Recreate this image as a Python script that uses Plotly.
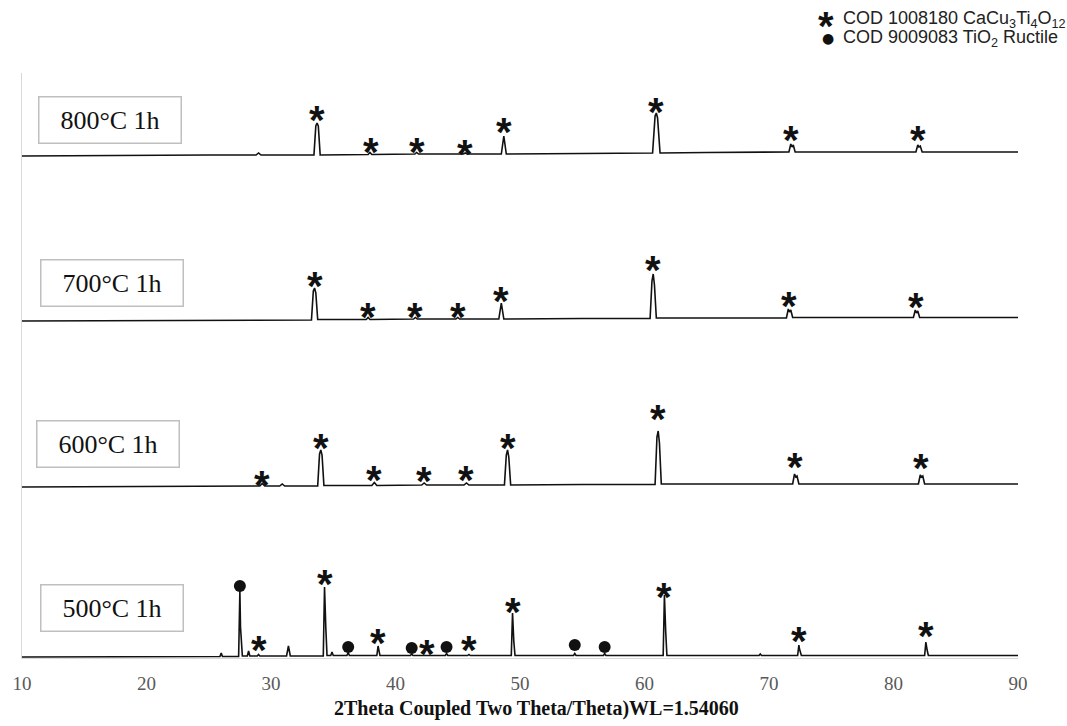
import plotly.graph_objects as go

# ---------------- data ----------------
# Each pattern: (2theta, intensity above its own baseline offset)
t800 = [(10, 0), (15, 0.5), (20, 0.5), (25, 1), (28.8, 1), (29.0, 3), (29.2, 1),
        (33.45, 1), (33.6, 30), (33.7, 33), (33.8, 30), (33.95, 1),
        (37.8, 1.5), (37.95, 3.5), (38.1, 1.5), (41.55, 2), (41.7, 3.5), (41.85, 2),
        (45.45, 2), (45.6, 3), (45.75, 2), (48.5, 2), (48.7, 20), (48.9, 2),
        (55, 2.5), (60.65, 3), (60.85, 40), (60.95, 43), (61.05, 38), (61.25, 3),
        (65, 3.5), (71.6, 4), (71.75, 12), (71.85, 9), (71.95, 11), (72.1, 4),
        (75, 4), (81.8, 4), (81.95, 11), (82.05, 9), (82.15, 10), (82.3, 4),
        (85, 4), (90, 4)]
t700 = [(10, 0), (15, 0.3), (20, 0.5), (25, 0.8), (30, 1),
        (33.25, 1), (33.4, 30), (33.5, 33), (33.6, 28), (33.75, 1.5),
        (37.65, 1.5), (37.8, 3.5), (37.95, 1.5), (41.45, 2), (41.6, 3.5), (41.75, 2),
        (44.85, 2), (45.0, 3.5), (45.15, 2), (48.3, 2), (48.5, 18), (48.7, 2),
        (55, 2.5), (60.45, 2.5), (60.6, 40), (60.7, 47), (60.8, 36), (60.95, 3),
        (65, 3), (71.4, 3), (71.55, 12), (71.65, 9), (71.75, 11), (71.9, 3.5),
        (75, 3.5), (81.6, 3.5), (81.75, 11), (81.85, 8), (81.95, 10), (82.1, 3.5),
        (85, 3.5), (90, 3.5)]
t600 = [(10, 0), (15, 0.3), (20, 0.5), (25, 0.7), (29.1, 1), (29.3, 3.5), (29.5, 1),
        (30.7, 1), (30.9, 3), (31.1, 1), (33.75, 1), (33.9, 33), (34.0, 37), (34.1, 32), (34.25, 1.5),
        (38.1, 1.5), (38.3, 4.5), (38.5, 1.5), (42.1, 2), (42.3, 4), (42.5, 2),
        (45.5, 2), (45.7, 4), (45.9, 2), (48.75, 2), (48.9, 32), (49.0, 37), (49.1, 30), (49.25, 2),
        (55, 2.5), (60.85, 2.5), (61.0, 50), (61.1, 56), (61.2, 44), (61.35, 3),
        (65, 3), (71.9, 3), (72.05, 13), (72.15, 10), (72.25, 11), (72.4, 3),
        (75, 3), (82.0, 3), (82.15, 12), (82.25, 10), (82.35, 11), (82.5, 3),
        (85, 3), (90, 3)]
t500 = [(10, 0), (15, 0.3), (20, 0.5), (25, 0.5), (25.9, 0.5), (26.0, 4), (26.1, 0.5),
        (27.4, 0.5), (27.5, 66), (27.55, 30), (27.6, 20), (27.7, 1),
        (28.1, 1), (28.2, 6), (28.3, 1), (28.9, 1), (29.0, 2.5), (29.1, 1),
        (31.25, 1), (31.4, 11), (31.55, 1), (34.2, 1), (34.3, 70), (34.35, 45), (34.4, 30), (34.5, 1.5),
        (34.8, 1.5), (34.9, 5), (35.0, 1.5), (36.1, 1.5), (36.2, 4.5), (36.3, 1.5),
        (38.5, 1.5), (38.6, 11), (38.65, 6), (38.75, 1.5), (41.2, 1.5), (41.3, 3), (41.4, 1.5),
        (42.4, 1.5), (42.5, 2), (42.6, 1.5), (44.0, 1.5), (44.1, 3.5), (44.2, 1.5),
        (45.8, 1.5), (45.9, 2.5), (46.0, 1.5), (49.3, 1.5), (49.4, 44), (49.45, 28), (49.5, 16), (49.6, 1.5),
        (54.3, 1.5), (54.4, 3.5), (54.5, 1.5), (56.7, 1.5), (56.8, 3.5), (56.9, 1.5),
        (61.5, 1.5), (61.6, 62), (61.65, 40), (61.7, 26), (61.8, 1.5),
        (65, 1.5), (69.2, 1.5), (69.3, 3), (69.4, 1.5),
        (72.3, 1.5), (72.4, 12), (72.45, 8), (72.5, 6), (72.6, 1.5),
        (75, 1.5), (82.5, 1.5), (82.6, 15), (82.65, 10), (82.7, 7), (82.8, 1.5),
        (86, 1.5), (90, 1.5)]

offsets = {"800": 502, "700": 337, "600": 171, "500": 1}
labels = ["800°C 1h", "700°C 1h", "600°C 1h", "500°C 1h"]

# CaCu3Ti4O12 peak markers (2theta, absolute height on the stacked axis)
star_x_800 = [33.7, 38.0, 41.7, 45.6, 48.7, 60.9, 71.8, 82.0]
star_y_800 = [541, 509, 509, 507, 529, 549, 521, 521]
star_x_700 = [33.5, 37.8, 41.6, 45.0, 48.5, 60.7, 71.6, 81.8]
star_y_700 = [375, 344, 344, 344, 360, 391, 355, 354]
star_x_600 = [29.3, 34.0, 38.3, 42.3, 45.7, 49.0, 61.1, 72.1, 82.2]
star_y_600 = [176, 213, 181, 180, 181, 213, 242, 194, 193]
star_x_500 = [29.0, 34.3, 38.6, 42.5, 45.9, 49.4, 61.6, 72.4, 82.6]
star_y_500 = [11, 77, 18, 7, 11, 49, 64, 20, 25]
# TiO2 rutile markers (500 °C only)
dot_x_500 = [27.5, 36.2, 41.3, 44.1, 54.4, 56.8]
dot_y_500 = [72, 11, 10, 11, 13, 11]

tick_vals = [10, 20, 30, 40, 50, 60, 70, 80, 90]

# ---------------- figure ----------------
fig = go.Figure()
for key, data in [("800", t800), ("700", t700), ("600", t600), ("500", t500)]:
    xs = [p[0] for p in data]
    ys = [p[1] + offsets[key] for p in data]
    fig.add_trace(go.Scatter(x=xs, y=ys, mode="lines",
                             line=dict(color="#111111", width=1.6),
                             showlegend=False, hoverinfo="skip"))

fig.add_trace(go.Scatter(x=dot_x_500, y=dot_y_500, mode="markers",
                         marker=dict(symbol="circle", size=12, color="#111111"),
                         showlegend=False, hoverinfo="skip"))

annotations = []
for sx, sy in [(star_x_800, star_y_800), (star_x_700, star_y_700),
               (star_x_600, star_y_600), (star_x_500, star_y_500)]:
    for x, y in zip(sx, sy):
        annotations.append(dict(x=x, y=y, xref="x", yref="y", text="<b>*</b>",
                                showarrow=False, yshift=-3,
                                font=dict(family="Liberation Sans", size=40, color="#111111")))

# sample label boxes
box_pos = [(0.016, 0.9607), (0.018, 0.682), (0.014, 0.4068), (0.018, 0.1265)]
for (bx, by), lab in zip(box_pos, labels):
    annotations.append(dict(x=bx, y=by, xref="paper", yref="paper", xanchor="left", yanchor="top",
                            text=lab, showarrow=False, width=141, height=45, borderpad=0,
                            bordercolor="#bfbfbf", borderwidth=1.5, bgcolor="white",
                            font=dict(family="Liberation Serif", size=26, color="#111111")))

# legend (top right)
annotations += [
    dict(x=0.797, y=1.0906, xref="paper", yref="paper", xanchor="left", yanchor="middle",
         text="<b>*</b>", showarrow=False, yshift=-6,
         font=dict(family="Liberation Sans", size=40, color="#111111")),
    dict(x=0.822, y=1.0906, xref="paper", yref="paper", xanchor="left", yanchor="middle",
         text="COD 1008180 CaCu<sub>3</sub>Ti<sub>4</sub>O<sub>12</sub>", showarrow=False,
         font=dict(family="Liberation Sans", size=18, color="#222222")),
    dict(x=0.801, y=1.0598, xref="paper", yref="paper", xanchor="left", yanchor="middle",
         text="●", showarrow=False,
         font=dict(family="DejaVu Sans", size=14, color="#111111")),
    dict(x=0.822, y=1.0598, xref="paper", yref="paper", xanchor="left", yanchor="middle",
         text="COD 9009083 TiO<sub>2</sub> Ructile", showarrow=False,
         font=dict(family="Liberation Sans", size=18, color="#222222")),
    dict(x=0.517, y=-0.0855, xref="paper", yref="paper", xanchor="center", yanchor="middle",
         text="<b>2Theta Coupled Two Theta/Theta)WL=1.54060</b>", showarrow=False,
         font=dict(family="Liberation Serif", size=20, color="#111111")),
]

fig.update_layout(
    width=1067, height=726,
    margin=dict(l=18, r=49, t=73, b=68),
    paper_bgcolor="white", plot_bgcolor="white",
    annotations=annotations,
    showlegend=False,
)
fig.update_xaxes(range=[10, 90], tickvals=tick_vals, ticktext=[str(v) for v in tick_vals],
                 showgrid=False, zeroline=False, showline=True, linecolor="#d9d9d9", linewidth=1,
                 ticks="outside", ticklen=8, tickcolor="rgba(0,0,0,0)",
                 tickfont=dict(family="Liberation Serif", size=19, color="#595959"))
fig.update_yaxes(range=[0, 585], showgrid=False, zeroline=False, showline=True,
                 linecolor="#d9d9d9", linewidth=1, showticklabels=False, ticks="")

fig.write_html("out.html")
